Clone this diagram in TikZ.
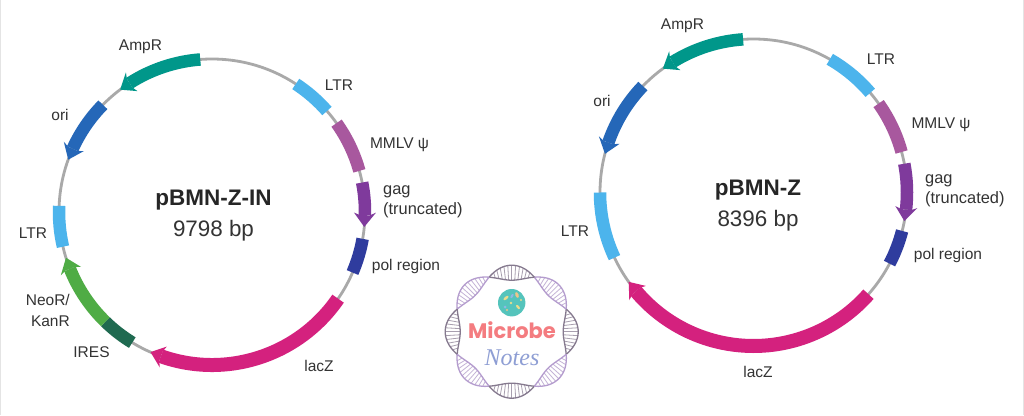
\documentclass[tikz,border=0pt]{standalone}
\usepackage{fontspec}
\usetikzlibrary{calc}
\setmainfont{Liberation Sans}
\newfontfamily\logofont{Poppins}
\newfontfamily\notesfont{Liberation Serif}
\definecolor{ringc}{HTML}{A9A9A9}
\definecolor{ampc}{HTML}{00978A}
\definecolor{ltrc}{HTML}{4CB4EC}
\definecolor{mmlvc}{HTML}{A8589E}
\definecolor{gagc}{HTML}{7F3A9C}
\definecolor{polc}{HTML}{2F3C9E}
\definecolor{lacc}{HTML}{D4217E}
\definecolor{oric}{HTML}{2567B8}
\definecolor{iresc}{HTML}{1F6A50}
\definecolor{neoc}{HTML}{4FAC45}
\definecolor{txtc}{HTML}{333333}
\definecolor{rungA}{HTML}{A89FAF}
\definecolor{rungB}{HTML}{C4B3D6}
\definecolor{edgeA}{HTML}{85798E}
\definecolor{edgeB}{HTML}{B49CCE}
\definecolor{discc}{HTML}{55C4BC}
\definecolor{micc}{HTML}{F47C80}
\definecolor{notc}{HTML}{8E9ED4}
\definecolor{speckA}{HTML}{E9DC8C}
\definecolor{speckB}{HTML}{F0C48A}
\definecolor{speckC}{HTML}{8FB8E6}
\definecolor{edgeS}{HTML}{E4E4E4}
\tikzset{
  x=1pt,y=1pt,
  lab/.style={text=txtc,font=\fontsize{15.5}{20.5}\selectfont,inner sep=0pt,align=left},
  labw/.style={text=txtc,font=\fontsize{16.4}{20.5}\selectfont,inner sep=0pt,align=left},
  ttl/.style={text=black!85,font=\fontsize{22.5}{26}\selectfont\bfseries,inner sep=0pt},
  sub/.style={text=txtc,font=\fontsize{22.4}{26}\selectfont,inner sep=0pt},
  ring/.style={draw=ringc,line width=2.8pt},
}
% \band{cx}{cy}{R}{from}{to}{width}{colour}
\newcommand{\band}[7]{\draw[#7,line width=#6pt] ($(#1,#2)+(#4:#3)$) arc[start angle=#4,end angle=#5,radius=#3];}
% \arrowband{cx}{cy}{R}{from}{tip}{head base angle}{width}{colour}
\newcommand{\arrowband}[8]{%
  \band{#1}{#2}{#3}{#4}{#6}{#7}{#8}
  \pgfmathsetmacro{\wingang}{#6+0.22*(#6-#5)}
  \fill[#8] ($(#1,#2)+(\wingang:#3+11)$) -- ($(#1,#2)+(#5:#3)$) -- ($(#1,#2)+(\wingang:#3-11)$) -- ($(#1,#2)+(#6:#3-5)$) -- ($(#1,#2)+(#6:#3+5)$) -- cycle;}
\begin{document}
\begin{tikzpicture}
\useasboundingbox (0,0) rectangle (1024,-415);
\fill[white] (0,0) rectangle (1024,-415);
\fill[edgeS] (0,0) rectangle (1,-415);
\fill[edgeS] (1023,0) rectangle (1024,-415);
% ---------- left plasmid
\coordinate (L) at (212,-212);
\draw[ring] (L) circle[radius=153];
\arrowband{212}{-212}{153}{94.4}{126.9}{122.6}{12.5}{ampc}
\band{212}{-212}{153}{56.8}{41.3}{12.5}{ltrc}
\band{212}{-212}{153}{35.5}{15.6}{12.5}{mmlvc}
\arrowband{212}{-212}{153}{11.1}{-5.6}{-1.2}{12.5}{gagc}
\band{212}{-212}{153}{-10.1}{-23.3}{12.5}{polc}
\arrowband{212}{-212}{153}{-34.5}{-113.7}{-109.5}{14}{lacc}
\band{212}{-212}{153}{-121.4}{-134.2}{12.5}{iresc}
\arrowband{212}{-212}{153}{-134.2}{-162.6}{-158.2}{12.5}{neoc}
\band{212}{-212}{153}{-166.9}{-182.3}{12.5}{ltrc}
\arrowband{212}{-212}{153}{135.5}{160}{155.6}{12.5}{oric}
\node[ttl] (t1) at (213.5,-200.5) {pBMN-Z-IN};
\node[sub] (s1) at (213.5,-231) {9798 bp};
\node[lab] (l1) at (140.5,-47) {AmpR};
\node[lab] (l2) at (339,-85) {LTR};
\node[lab] (l3) at (399.5,-145) {MMLV ψ};
\node[labw,anchor=west] (l4) at (383,-202) {gag\\(truncated)};
\node[lab] (l5) at (406,-266.5) {pol region};
\node[lab] (l6) at (319,-366) {lacZ};
\node[lab] (l7) at (91.5,-352) {IRES};
\node[lab,align=right,anchor=east] (l8) at (70,-310.5) {NeoR/\\KanR};
\node[lab] (l9) at (33,-233) {LTR};
\node[lab] (l10) at (60,-115) {ori};
% ---------- right plasmid
\coordinate (R) at (753.5,-192.5);
\draw[ring] (R) circle[radius=153.5];
\arrowband{753.5}{-192.5}{153.5}{93.9}{126.2}{121.8}{12.5}{ampc}
\band{753.5}{-192.5}{153.5}{60.2}{40.5}{12.5}{ltrc}
\band{753.5}{-192.5}{153.5}{35.4}{15.3}{12.5}{mmlvc}
\arrowband{753.5}{-192.5}{153.5}{10.8}{-10.7}{-6.4}{12.5}{gagc}
\band{753.5}{-192.5}{153.5}{-14.5}{-27.6}{12.5}{polc}
\arrowband{753.5}{-192.5}{153.5}{-41.5}{-144.4}{-140}{14}{lacc}
\band{753.5}{-192.5}{153.5}{-154.9}{-180}{12.5}{ltrc}
\arrowband{753.5}{-192.5}{153.5}{136.1}{165.4}{161}{12.5}{oric}
\node[ttl] (t2) at (758,-190) {pBMN-Z};
\node[sub] (s2) at (758,-220.5) {8396 bp};
\node[lab] (r1) at (682.5,-26) {AmpR};
\node[lab] (r2) at (881,-59) {LTR};
\node[lab] (r3) at (941,-125) {MMLV ψ};
\node[labw,anchor=west] (r4) at (925,-191) {gag\\(truncated)};
\node[lab] (r5) at (948,-255) {pol region};
\node[lab] (r6) at (758,-372) {lacZ};
\node[lab] (r7) at (575,-231) {LTR};
\node[lab] (r8) at (602,-101) {ori};
% ---------- logo
\begin{scope}[shift={(511.7,-331.7)}]
  \foreach \kk in {0,...,7}{
    \pgfmathsetmacro{\cc}{\kk*45}
    \pgfmathtruncatemacro{\oddk}{mod(\kk,2)}
    \ifnum\oddk=0 \def\rc{rungA}\def\ec{edgeA}\else\def\rc{rungB}\def\ec{edgeB}\fi
    \foreach \dd in {-17,-13.6,...,17}{
      \pgfmathsetmacro{\amp}{7.5*cos(4*\dd)}
      \draw[\rc,line width=.8pt] (\cc+\dd:59-\amp) -- (\cc+\dd:59+\amp);
    }
    \draw[\ec,line width=1.3pt,samples=25,domain=-22.5:22.5,smooth]
      plot ({(59+7.5*cos(4*\x))*cos(\cc+\x)},{(59+7.5*cos(4*\x))*sin(\cc+\x)});
    \draw[\ec,line width=1.3pt,samples=25,domain=-22.5:22.5,smooth]
      plot ({(59-7.5*cos(4*\x))*cos(\cc+\x)},{(59-7.5*cos(4*\x))*sin(\cc+\x)});
  }
  \fill[discc] (0,29) circle[radius=13.7];
\end{scope}
\fill[speckA] (506,-298) ellipse[x radius=3,y radius=1.4,rotate=40];
\fill[speckB] (517,-295) ellipse[x radius=1.6,y radius=3,rotate=20];
\fill[speckA] (518,-307) ellipse[x radius=2.6,y radius=1.3,rotate=-50];
\fill[speckC] (505,-307) circle[radius=1.5];
\fill[speckA] (511,-303) circle[radius=1.3];
\fill[speckC] (512,-296) ellipse[x radius=1.2,y radius=2.4,rotate=-30];
\fill[speckB] (507,-310) circle[radius=1.1];
\fill[speckA] (521,-300) circle[radius=1.2];
\node[inner sep=0pt,text=micc] (m1) at (512,-330) {\logofont\fontsize{21}{24}\selectfont\bfseries Microbe};
\node[inner sep=0pt,text=notc] (m2) at (512,-358) {\notesfont\itshape\fontsize{24}{28}\selectfont Notes};
\end{tikzpicture}
\end{document}
